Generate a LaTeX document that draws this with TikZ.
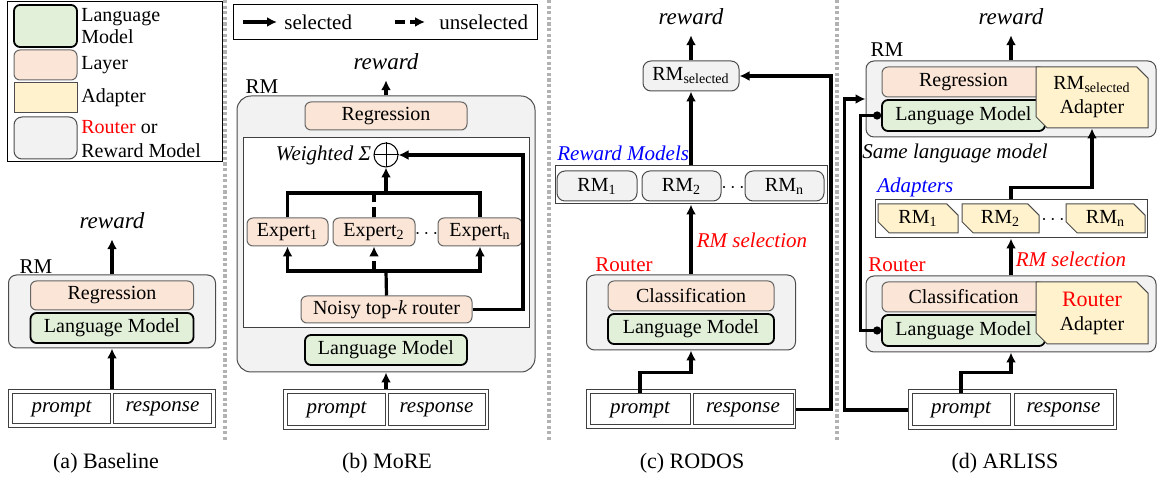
\documentclass[tikz,border=0pt]{standalone}
\usepackage{fontspec}
\setmainfont{Liberation Serif}
\usetikzlibrary{arrows.meta,positioning,shapes.misc}
\definecolor{lmgreen}{HTML}{E2F0D9}
\definecolor{layerpink}{HTML}{FBE5D6}
\definecolor{adapteryellow}{HTML}{FFF2CC}
\definecolor{rmgray}{HTML}{F2F2F2}
\tikzset{
  sz/.style 2 args={minimum width=#1*0.5pt,minimum height=#2*0.5pt},
  lm/.style={draw=black,line width=0.9pt,fill=lmgreen,rounded corners=3pt,inner sep=0pt},
  layer/.style={draw=black!60,line width=0.5pt,fill=layerpink,rounded corners=3pt,inner sep=0pt},
  adapter/.style={draw=black!70,line width=0.5pt,fill=adapteryellow,chamfered rectangle,
    chamfered rectangle corners={north east,south west},chamfered rectangle sep=2.8pt,inner sep=0pt,align=center},
  rmbox/.style={draw=black!70,line width=0.5pt,fill=rmgray,rounded corners=4pt,inner sep=0pt},
  plain/.style={draw=black!75,line width=0.5pt,inner sep=0pt},
  io/.style={plain,font=\fontsize{10.5}{12}\selectfont\itshape},
  sel/.style={line width=1.6pt,-{Latex[length=5pt,width=5pt]}},
  unsel/.style={sel,dash pattern=on 5pt off 2.5pt},
  link/.style={line width=1.6pt},
  rew/.style={font=\fontsize{11.5}{13}\selectfont\itshape,inner sep=0pt,outer ysep=5pt},
  tag/.style={font=\fontsize{10.5}{12}\selectfont,inner sep=0pt},
  note/.style={font=\fontsize{10.5}{12}\selectfont\itshape,inner sep=0pt},
  sepline/.style={draw=black!30,line width=1.6pt,dash pattern=on 1.6pt off 1.2pt},
}
\begin{document}
\begin{tikzpicture}[x=0.5pt,y=-0.5pt]
  \useasboundingbox (0,0) rectangle (1158,480);
  \draw[sepline] (225,0) -- (225,440);
  \draw[sepline] (549,0) -- (549,440);
  \draw[sepline] (837,0) -- (837,440);

  \node[plain,draw=black,sz={215}{160}] (keyA) at (114.5,82) {};
  \node[lm,sz={63}{42}] (keylm) at (45.5,26) {};
  \node[layer,sz={63}{30}] (keylayer) at (45.5,65) {};
  \node[adapter,sz={63}{30}] (keyad) at (45.5,98) {};
  \node[rmbox,sz={63}{42}] (keyrm) at (45.5,138) {};
  \node[anchor=west,align=left,inner sep=0pt,font=\fontsize{10}{11}\selectfont] (keylmtxt) at (81,26) {Language\\Model};
  \node[anchor=west,inner sep=0pt] (keylayertxt) at (81,65) {Layer};
  \node[anchor=west,inner sep=0pt] (keyadtxt) at (81,98) {Adapter};
  \node[anchor=west,align=left,inner sep=0pt] (keyrmtxt) at (81,139) {\textcolor{red}{Router} or\\Reward Model};

  \node[rew,anchor=base] (rewA) at (112,229) {reward};
  \node[rmbox,sz={207}{73}] (rmA) at (112,311.5) {};
  \node[tag] (labA) at (36,267) {RM};
  \node[layer,sz={163}{29}] (regA) at (112,295.5) {Regression};
  \node[lm,sz={163}{30}] (lmA) at (112,328) {Language Model};
  \node[plain,sz={207}{38}] (inA) at (112,409) {};
  \node[io,sz={98}{30}] (prA) at (61.5,409) {prompt};
  \node[io,sz={98}{30}] (reA) at (162.5,409) {response};
  \draw[sel] (inA.north) -- (rmA.south);
  \draw[sel] (rmA.north) -- (rewA.south);

  \node[plain,draw=black,sz={304}{35}] (keyB) at (385,22.5) {};
  \coordinate (s0) at (243,22);
  \coordinate (s1) at (277,22);
  \coordinate (u0) at (395,22);
  \coordinate (u1) at (425,22);
  \draw[sel] (s0) -- (s1);
  \draw[unsel] (u0) -- (u1);
  \node[anchor=west,inner sep=0pt,font=\fontsize{10.5}{12}\selectfont] (seltxt) at (284,22) {selected};
  \node[anchor=west,inner sep=0pt,font=\fontsize{10.5}{12}\selectfont] (unseltxt) at (439,22) {unselected};
  \node[rew,anchor=base] (rewB) at (386,70) {reward};
  \node[rmbox,rounded corners=7pt,sz={298}{276}] (rmB) at (386,234) {};
  \node[tag] (labB) at (262,87) {RM};
  \node[layer,sz={162}{28}] (regB) at (386,116) {Regression};
  \node[plain,fill=white,sz={286}{190}] (moeB) at (386,233) {};
  \node[draw,circle,fill=white,line width=0.5pt,minimum size=12pt,inner sep=0pt] (sumB) at (386,155) {};
  \draw[line width=0.5pt] (sumB.north) -- (sumB.south) (sumB.west) -- (sumB.east);
  \node[anchor=east,inner sep=1pt,font=\fontsize{10.5}{12}\selectfont\itshape] (wsB) at (sumB.west) {Weighted Σ};
  \node[layer,sz={81}{28}] (ex1) at (287.5,232) {Expert\textsubscript{1}};
  \node[layer,sz={82}{28}] (ex2) at (374,232) {Expert\textsubscript{2}};
  \node[layer,sz={84}{28}] (exn) at (480,232) {Expert\textsubscript{n}};
  \node[inner sep=0pt] (dotsB) at (426.5,234) {$\cdots$};
  \node[layer,sz={171}{27}] (router) at (386.5,309.5) {Noisy top-\textit{k} router};
  \node[lm,sz={162}{30}] (lmB) at (386,350) {Language Model};
  \node[plain,sz={205}{40}] (inB) at (386,410) {};
  \node[io,sz={98}{32}] (prB) at (336.5,410) {prompt};
  \node[io,sz={97}{32}] (reB) at (436.5,410) {response};
  \coordinate (busB) at (386,271);
  \coordinate (topB) at (386,193);
  \coordinate (backB) at (523,155);
  \draw[sel] (inB.north) -- (rmB.south);
  \draw[sel] (rmB.north) -- (rewB.south);
  \draw[link] (router.north) -- (busB);
  \draw[sel] (busB) -| (ex1.south);
  \draw[sel] (busB) -| (exn.south);
  \draw[unsel] (ex2.south |- busB) -- (ex2.south);
  \draw[link] (ex1.north) |- (topB) -| (exn.north);
  \draw[link,dash pattern=on 5pt off 2.5pt] (ex2.north) -- (ex2.north |- topB);
  \draw[sel] (topB) -- (sumB.south);
  \draw[sel] (router.east) -| (backB) -- (sumB.east);

  \node[rew,anchor=base] (rewC) at (691,25) {reward};
  \node[rmbox,sz={96}{30}] (rmsel) at (691,76) {RM\textsubscript{selected}};
  \node[plain,sz={272}{38}] (grpC) at (691,185) {};
  \node[rmbox,sz={80}{30}] (rm1C) at (597,186) {RM\textsubscript{1}};
  \node[rmbox,sz={79}{30}] (rm2C) at (681.5,186) {RM\textsubscript{2}};
  \node[rmbox,sz={79}{30}] (rmnC) at (784.5,186) {RM\textsubscript{n}};
  \node[inner sep=0pt] (dotsC) at (733,188) {$\cdots$};
  \node[note,text=blue,anchor=base west] (rmsC) at (557,161) {Reward Models};
  \node[rmbox,sz={209}{75}] (routC) at (691,312.5) {};
  \node[layer,sz={166}{30}] (clsC) at (691,296) {Classification};
  \node[lm,sz={166}{30}] (lmC) at (691,329) {Language Model};
  \node[tag,text=red] (labC) at (624,265) {Router};
  \node[note,text=red] (selC) at (752,240) {RM selection};
  \node[plain,sz={209}{39}] (inC) at (691,409.5) {};
  \node[io,sz={100}{31}] (prC) at (640,409.5) {prompt};
  \node[io,sz={100}{31}] (reC) at (743,409.5) {response};
  \draw[sel] (rmsel.north) -- (rewC.south);
  \draw[sel] (grpC.north) -- (rmsel.south);
  \draw[sel] (routC.north) -- (grpC.south);
  \draw[sel] (prC.north) -- ++(0,-21) -| (routC.south);
  \draw[sel] (inC.east) -- ++(35,0) |- (rmsel.east);

  \node[rew,anchor=base] (rewD) at (1011,25) {reward};
  \node[rmbox,sz={290}{76}] (rmD) at (1011,99) {};
  \node[tag] (labD) at (887,50) {RM};
  \node[layer,sz={163}{30}] (regD) at (963.5,82) {Regression};
  \node[lm,sz={163}{31}] (lmD) at (963.5,115.5) {Language Model};
  \node[adapter,sz={112}{61}] (adD) at (1092,97.5) {RM\textsubscript{selected}\\Adapter};
  \node[note] (sameD) at (955,153) {Same language model};
  \node[plain,sz={272}{38}] (grpD) at (1011,219) {};
  \node[adapter,sz={80}{29}] (rm1D) at (918,218.5) {RM\textsubscript{1}};
  \node[adapter,sz={77}{29}] (rm2D) at (1000.5,218.5) {RM\textsubscript{2}};
  \node[adapter,sz={79}{29}] (rmnD) at (1105.5,218.5) {RM\textsubscript{n}};
  \node[inner sep=0pt] (dotsD) at (1053,220) {$\cdots$};
  \node[note,text=blue,anchor=base west] (adsD) at (877,193) {Adapters};
  \node[rmbox,sz={290}{76}] (routD) at (1011,314) {};
  \node[layer,sz={163}{30}] (clsD) at (963.5,297) {Classification};
  \node[lm,sz={163}{31}] (lmR) at (963.5,330.5) {Language Model};
  \node[adapter,sz={112}{62}] (adR) at (1092,313) {\textcolor{red}{\fontsize{11}{12}\selectfont Router}\\Adapter};
  \node[tag,text=red] (labR) at (897,265) {Router};
  \node[note,text=red] (selD) at (1071,259) {RM selection};
  \node[plain,sz={208}{40}] (inD) at (1012,410) {};
  \node[io,sz={98}{32}] (prD) at (961,410) {prompt};
  \node[io,sz={99}{32}] (reD) at (1063.5,410) {response};
  \draw[sel] (rmD.north) -- (rewD.south);
  \draw[sel] (grpD.north) -- ++(0,-12) -| (adD.south);
  \draw[sel] (routD.north) -- (grpD.south);
  \draw[sel] (prD.north) -- ++(0,-21) -| (routD.south);
  \draw[sel] (inD.west) -- ++(-63,0) |- (rmD.west);
  \draw[link,{Circle[length=4pt]}-{Circle[length=4pt]}] (lmR.west) -- ++(-21,0) |- (lmD.west);

  \node[font=\fontsize{11}{13}\selectfont] (capA) at (106,463) {(a) Baseline};
  \node[font=\fontsize{11}{13}\selectfont] (capB) at (387,463) {(b) MoRE};
  \node[font=\fontsize{11}{13}\selectfont] (capC) at (692,463) {(c) RODOS};
  \node[font=\fontsize{11}{13}\selectfont] (capD) at (1005,463) {(d) ARLISS};
\end{tikzpicture}
\end{document}
